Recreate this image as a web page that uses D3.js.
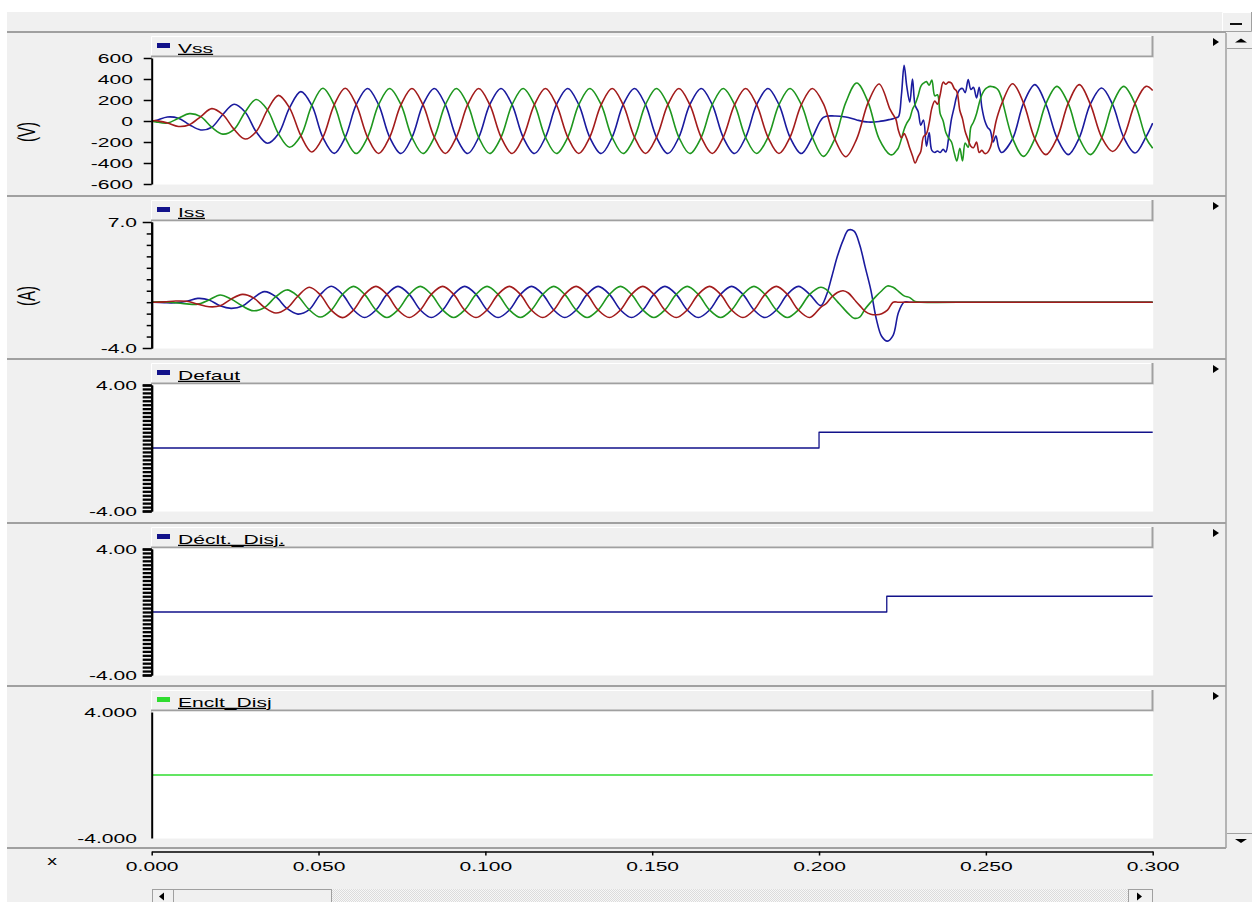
<!DOCTYPE html>
<html>
<head>
<meta charset="utf-8">
<script src="https://cdn.jsdelivr.net/npm/d3@7"></script>
<style>
  body { margin: 0; background: #fff; }
  svg text { font-family: "Liberation Sans", Arial, sans-serif; fill: #000; }
</style>
</head>
<body>
<div id="chart"></div>
<script>
// ---- data (time in s) ----
const xTicks = [0, 0.05, 0.1, 0.15, 0.2, 0.25, 0.3];
const vssTicks = [-600, -400, -200, 0, 200, 400, 600];
const issLabelTicks = [-4, 7];
const issMinorTicks = [-3, -2, -1, 0, 1, 2, 3, 4, 5, 6];
const logicLabelTicks = [-4, 4];

const vssTime = [0,
  0.0013, 0.0047, 0.0080, 0.0113, 0.0147, 0.0180,
  0.0213, 0.0247, 0.0280, 0.0313, 0.0347, 0.0380,
  0.0413, 0.0447, 0.0480, 0.0513, 0.0547, 0.0580,
  0.0613, 0.0647, 0.0680, 0.0713, 0.0747, 0.0780,
  0.0813, 0.0847, 0.0880, 0.0913, 0.0947, 0.0980,
  0.1013, 0.1047, 0.1080, 0.1113, 0.1147, 0.1180,
  0.1213, 0.1247, 0.1280, 0.1313, 0.1347, 0.1380,
  0.1413, 0.1447, 0.1480, 0.1513, 0.1547, 0.1580,
  0.1613, 0.1647, 0.1680, 0.1713, 0.1747, 0.1780,
  0.1813, 0.1847, 0.1880, 0.1913, 0.1947, 0.1980,
  0.2013, 0.2047, 0.2080, 0.2113, 0.2147, 0.2180,
  0.2213, 0.2222, 0.2230, 0.2238, 0.2247, 0.2255, 0.2263, 0.2272,
  0.2280, 0.2288, 0.2297, 0.2305, 0.2313, 0.2322, 0.2330, 0.2338,
  0.2347, 0.2355, 0.2363, 0.2372, 0.2380, 0.2388, 0.2397, 0.2405,
  0.2413, 0.2422, 0.2430, 0.2438, 0.2447, 0.2455, 0.2463, 0.2472,
  0.2480, 0.2488, 0.2497, 0.2505, 0.2513, 0.2522, 0.2530, 0.2538,
  0.2547, 0.2580, 0.2613, 0.2647, 0.2680, 0.2713, 0.2747, 0.2780,
  0.2813, 0.2847, 0.2880, 0.2913, 0.2947, 0.2980, 0.3000];

const vssBlue = [0,
  4, 38, 26, -35, -85, -59,
  62, 160, 86, -102, -212, -122,
  125, 280, 148, -156, -308, -156,
  155, 310, 155, -155, -310, -155,
  155, 310, 155, -155, -310, -155,
  155, 310, 155, -155, -310, -155,
  155, 310, 155, -155, -310, -155,
  155, 310, 155, -155, -310, -155,
  155, 310, 155, -155, -310, -155,
  155, 310, 155, -155, -310, -155,
  35, 48, 38, 10, -10, -5,
  15, 22, 30, 40, 250, 530, 330, 180,
  400, 150, 90, -40, 10, -240, -110, -280,
  -300, -285, -300, -270, -295, -170, 20, 130,
  240, 300, 310, 270, 395, 300, 320, 220,
  320, 130, 0, -60, -90, -200, -140, -250,
  -300, -170, 170, 346, 160, -160, -320, -160,
  160, 314, 155, -155, -305, -150, -20];

const vssGreen = [0,
  -8, -19, 26, 70, 42, -59,
  -125, -80, 86, 205, 106, -122,
  -250, -140, 148, 312, 154, -156,
  -310, -155, 155, 310, 155, -155,
  -310, -155, 155, 310, 155, -155,
  -310, -155, 155, 310, 155, -155,
  -310, -155, 155, 310, 155, -155,
  -310, -155, 155, 310, 155, -155,
  -310, -155, 155, 310, 155, -155,
  -310, -155, 155, 310, 155, -155,
  -337, -172, 175, 362, 180, -170,
  -320, -318, -290, -255, -170, -80, -20, 25,
  110, 160, 240, 330, 360, 375, 340, 390,
  240, 250, 70, 0, -110, -160, -200, -300,
  -380, -260, -380, -210, -250, -60, -10, 70,
  170, 250, 300, 320, 330, 325, 315, 290,
  220, -165, -337, -165, 165, 330, 165, -165,
  -320, -160, 165, 330, 165, -160, -260];

const vssRed = [0,
  4, -19, -52, -35, 42, 118,
  62, -80, -172, -102, 106, 244,
  125, -140, -295, -156, 154, 312,
  155, -155, -310, -155, 155, 310,
  155, -155, -310, -155, 155, 310,
  155, -155, -310, -155, 155, 310,
  155, -155, -310, -155, 155, 310,
  155, -155, -310, -155, 155, 310,
  155, -155, -310, -155, 155, 310,
  155, -155, -310, -155, 155, 310,
  165, -170, -340, -170, 175, 352,
  110, 60, 20, -90, -160, -120, -170, -260,
  -330, -400, -340, -290, -150, -120, -20, 120,
  190, 160, 250, 370, 350, 370, 360, 310,
  280, 100, 20, -100, -180, -240, -255, -200,
  -300, -280, -310, -300, -255, -140, -10, 80,
  160, 355, 170, -170, -320, -165, 170, 346,
  160, -155, -290, -150, 165, 330, 290];

const issTime = [0,
  0.0005, 0.0038, 0.0072, 0.0105, 0.0138, 0.0172,
  0.0205, 0.0238, 0.0272, 0.0305, 0.0338, 0.0372,
  0.0405, 0.0438, 0.0472, 0.0505, 0.0538, 0.0572,
  0.0605, 0.0638, 0.0672, 0.0705, 0.0738, 0.0772,
  0.0805, 0.0838, 0.0872, 0.0905, 0.0938, 0.0972,
  0.1005, 0.1038, 0.1072, 0.1105, 0.1138, 0.1172,
  0.1205, 0.1238, 0.1272, 0.1305, 0.1338, 0.1372,
  0.1405, 0.1438, 0.1472, 0.1505, 0.1538, 0.1572,
  0.1605, 0.1638, 0.1672, 0.1705, 0.1738, 0.1772,
  0.1805, 0.1838, 0.1872, 0.1905, 0.1938, 0.1972,
  0.2005, 0.2022, 0.2038, 0.2055, 0.2072, 0.2088, 0.2105, 0.2122, 0.2138, 0.2155,
  0.2172, 0.2188, 0.2205, 0.2222, 0.2238, 0.2255, 0.2272, 0.2288, 0.2305,
  0.2500, 0.3000];

const issBlue = [0,
  -0.01, -0.05, -0.05, 0.08, 0.33, 0.2,
  -0.32, -0.54, -0.34, 0.38, 0.92, 0.48,
  -0.54, -1.04, -0.65, 0.65, 1.39, 0.68,
  -0.68, -1.34, -0.68, 0.68, 1.38, 0.68,
  -0.68, -1.34, -0.68, 0.68, 1.38, 0.68,
  -0.68, -1.34, -0.68, 0.68, 1.38, 0.68,
  -0.68, -1.34, -0.68, 0.68, 1.38, 0.68,
  -0.68, -1.34, -0.68, 0.68, 1.38, 0.68,
  -0.68, -1.34, -0.68, 0.68, 1.38, 0.68,
  -0.68, -1.34, -0.68, 0.68, 1.38, 0.68,
  -0.3, 0.6, 2.2, 4.0, 5.4, 6.3, 6.2, 5.0, 3.1, 1.1,
  -1.5, -3.0, -3.4, -2.9, -0.9, 0, 0, 0, 0,
  0, 0];

const issGreen = [0,
  0.02, 0.03, -0.05, -0.15, -0.17, 0.2,
  0.63, 0.27, -0.34, -0.75, -0.46, 0.48,
  1.07, 0.52, -0.65, -1.3, -0.7, 0.68,
  1.38, 0.68, -0.68, -1.34, -0.68, 0.68,
  1.38, 0.68, -0.68, -1.34, -0.68, 0.68,
  1.38, 0.68, -0.68, -1.34, -0.68, 0.68,
  1.38, 0.68, -0.68, -1.34, -0.68, 0.68,
  1.38, 0.68, -0.68, -1.34, -0.68, 0.68,
  1.38, 0.68, -0.68, -1.34, -0.68, 0.68,
  1.38, 0.68, -0.68, -1.34, -0.68, 0.68,
  1.3, 1.1, 0.6, 0.05, -0.5, -1.0, -1.4, -1.3, -0.6, 0.0,
  0.55, 1.0, 1.42, 1.3, 0.95, 0.55, 0.4, 0.05, 0,
  0, 0];

const issRed = [0,
  -0.01, 0.03, 0.1, 0.08, -0.17, -0.4,
  -0.32, 0.27, 0.68, 0.38, -0.46, -0.95,
  -0.54, 0.52, 1.3, 0.65, -0.7, -1.35,
  -0.68, 0.68, 1.38, 0.68, -0.68, -1.34,
  -0.68, 0.68, 1.38, 0.68, -0.68, -1.34,
  -0.68, 0.68, 1.38, 0.68, -0.68, -1.34,
  -0.68, 0.68, 1.38, 0.68, -0.68, -1.34,
  -0.68, 0.68, 1.38, 0.68, -0.68, -1.34,
  -0.68, 0.68, 1.38, 0.68, -0.68, -1.34,
  -0.68, 0.68, 1.38, 0.68, -0.68, -1.34,
  -0.45, -0.1, 0.45, 0.85, 1.0, 0.8, 0.25, -0.3, -0.8, -1.05,
  -1.1, -1.0, -0.7, 0, 0, 0, 0, 0, 0,
  0, 0];

const defautTime = [0, 0.2, 0.3];
const defautValues = [0, 1, 1];
const decltTime = [0, 0.2203, 0.3];
const decltValues = [0, 1, 1];
const encltTime = [0, 0.3];
const encltValues = [0, 0];

// ---- layout ----
const W = 1255, H = 902;
const plotLeft = 151.7, plotRight = 1152.7;
const panelTops = [32, 196, 359, 523, 686];
const SX = 1.62;   // the screenshot is stretched horizontally
const BG = '#f0f0f0', EDGE = '#a0a0a0';
const BLUE = '#1b1b9e', GREEN = '#1f971f', RED = '#a31c1c', NAVY = '#12128a', LIME = '#2fdc2f';

const fmtLocale = d3.formatLocale({ decimal: '.', thousands: ',', grouping: [3], currency: ['', ''], minus: '-' });

const svg = d3.select('#chart').append('svg')
    .attr('width', W)
    .attr('height', H);

const defs = svg.append('defs');
const hatch = defs.append('pattern')
    .attr('id', 'hatch')
    .attr('width', 2).attr('height', 2)
    .attr('patternUnits', 'userSpaceOnUse');
hatch.append('rect').attr('width', 2).attr('height', 2).attr('fill', '#f7f7f7');
hatch.append('rect').attr('width', 1).attr('height', 1).attr('fill', '#dcdcdc');
hatch.append('rect').attr('x', 1).attr('y', 1).attr('width', 1).attr('height', 1).attr('fill', '#dcdcdc');

svg.append('rect').attr('width', W).attr('height', H).attr('fill', '#fff');
svg.append('rect').attr('x', 7).attr('y', 12).attr('width', W - 10).attr('height', H - 12).attr('fill', BG);

// toolbar button
svg.append('path').attr('d', 'M1222.5,31 V12.5 H1251').attr('stroke', '#fff').attr('fill', 'none');
svg.append('path').attr('d', 'M1222,31.5 H1251.5 V12').attr('stroke', EDGE).attr('fill', 'none');
svg.append('rect').attr('x', 1230).attr('y', 23).attr('width', 12).attr('height', 2).attr('fill', '#111');

const xScale = d3.scaleLinear()
    .domain([0, 0.3])
    .range([plotLeft, plotRight]);

function stretched(sel, tx, ty, extra) {
    return sel.attr('transform', `translate(${tx},${ty}) scale(${SX},1)` + (extra || ''));
}

const panels = [
    { label: 'Vss', swatch: NAVY, unit: '(V)', domain: [-600, 600], labelTicks: vssTicks,
      minorTicks: [], fmt: 'd', labelRight: 133, majorLen: 8, curve: d3.curveCatmullRom.alpha(0.5),
      series: [[vssTime, vssBlue, BLUE], [vssTime, vssGreen, GREEN], [vssTime, vssRed, RED]] },
    { label: 'Iss', swatch: NAVY, unit: '(A)', domain: [-4, 7], labelTicks: issLabelTicks,
      minorTicks: issMinorTicks, minorLen: 5, fmt: '.1f', labelRight: 137, majorLen: 9, curve: d3.curveCatmullRom.alpha(0.5),
      series: [[issTime, issBlue, BLUE], [issTime, issGreen, GREEN], [issTime, issRed, RED]] },
    { label: 'Defaut', swatch: NAVY, domain: [-4, 4], labelTicks: logicLabelTicks,
      minorTicks: d3.range(-4, 4.001, 0.25), minorLen: 9, comb: true, fmt: '.2f', labelRight: 137, majorLen: 9,
      curve: d3.curveStepAfter, series: [[defautTime, defautValues, NAVY]] },
    { label: 'Déclt._Disj.', swatch: NAVY, domain: [-4, 4], labelTicks: logicLabelTicks,
      minorTicks: d3.range(-4, 4.001, 0.25), minorLen: 9, comb: true, fmt: '.2f', labelRight: 137, majorLen: 9,
      curve: d3.curveStepAfter, series: [[decltTime, decltValues, NAVY]] },
    { label: 'Enclt_Disj', swatch: LIME, domain: [-4, 4], labelTicks: logicLabelTicks,
      minorTicks: [], fmt: '.3f', labelRight: 137, majorLen: 0,
      curve: d3.curveLinear, series: [[encltTime, encltValues, LIME]] }
];

panels.forEach((p, i) => {
    const top = panelTops[i];
    const g = svg.append('g');

    g.append('line')
        .attr('x1', 7).attr('x2', 1226).attr('y1', top).attr('y2', top)
        .attr('stroke', EDGE).attr('stroke-width', 2);

    // header bar with legend
    g.append('path').attr('d', `M151.5,${top + 24} V${top + 4.5} H1152`).attr('stroke', '#fff').attr('fill', 'none');
    g.append('path').attr('d', `M151,${top + 24.5} H1152.5 V${top + 4}`)
        .attr('stroke', EDGE).attr('stroke-width', 2).attr('fill', 'none');
    g.append('rect')
        .attr('x', 157).attr('y', top + 11).attr('width', 13).attr('height', 5)
        .attr('fill', p.swatch);
    stretched(g.append('text'), 178, top + 21)
        .attr('font-size', 13)
        .style('text-decoration', 'underline')
        .text(p.label);

    // little arrow on the right
    g.append('path')
        .attr('d', `M1213,${top + 6} L1219,${top + 10} L1213,${top + 14} Z`)
        .attr('fill', '#000');

    // plot area
    const yScale = d3.scaleLinear()
        .domain(p.domain)
        .range([top + 152, top + 26]);

    g.append('rect')
        .attr('x', 152).attr('y', top + 25.5)
        .attr('width', plotRight - 152 + 0.5).attr('height', 127)
        .attr('fill', '#fff');

    const clipId = 'clip' + i;
    defs.append('clipPath').attr('id', clipId)
        .append('rect')
        .attr('x', 152).attr('y', top + 25.5)
        .attr('width', plotRight - 152 + 0.5).attr('height', 127);

    const linesG = g.append('g').attr('clip-path', `url(#${clipId})`);
    p.series.forEach(([t, v, color]) => {
        const line = d3.line()
            .x(j => xScale(t[j]))
            .y(j => yScale(v[j]))
            .curve(p.curve);
        linesG.append('path')
            .attr('d', line(d3.range(t.length)))
            .attr('fill', 'none')
            .attr('stroke', color)
            .attr('stroke-width', p.comb || i === 4 ? 1.3 : 1.6)
            .attr('stroke-linejoin', 'round');
    });

    // y axis
    if (p.minorTicks.length) {
        const minorAxis = d3.axisLeft(yScale)
            .tickValues(p.minorTicks)
            .tickSize(p.minorLen)
            .tickSizeOuter(0)
            .tickFormat('');
        const mg = g.append('g').attr('transform', `translate(${plotLeft},0)`).call(minorAxis);
        mg.selectAll('.tick line').attr('stroke', '#000').attr('stroke-width', p.comb ? 2.3 : 1.5);
        mg.select('.domain').attr('stroke', '#000').attr('stroke-width', 2);
    }
    const yAxis = d3.axisLeft(yScale)
        .tickValues(p.labelTicks)
        .tickSize(p.majorLen)
        .tickSizeOuter(0)
        .tickFormat(fmtLocale.format(p.fmt));
    const yAxisG = g.append('g')
        .attr('transform', `translate(${plotLeft},0)`)
        .call(yAxis);
    yAxisG.attr('font-size', 13).attr('font-family', null);
    yAxisG.select('.domain').attr('stroke', '#000').attr('stroke-width', 2);
    yAxisG.selectAll('.tick line').attr('stroke', '#000').attr('stroke-width', p.comb ? 2.3 : 1.5);
    yAxisG.selectAll('.tick text')
        .attr('x', 0)
        .attr('fill', '#000')
        .attr('transform', `translate(${p.labelRight - plotLeft},0) scale(${SX},1)`);

    if (p.unit) {
        stretched(g.append('text'), 26, top + 100, ' rotate(-90)')
            .attr('font-size', 15)
            .attr('text-anchor', 'middle')
            .attr('dy', '0.35em')
            .text(p.unit);
    }
});

// bottom separator
svg.append('line')
    .attr('x1', 7).attr('x2', 1226).attr('y1', 848).attr('y2', 848)
    .attr('stroke', EDGE).attr('stroke-width', 2);

// x axis
const xAxis = d3.axisBottom(xScale)
    .tickValues(xTicks)
    .tickSize(4)
    .tickSizeOuter(0)
    .tickFormat(fmtLocale.format('.3f'));
const xAxisG = svg.append('g')
    .attr('transform', 'translate(0,851.5)')
    .call(xAxis);
xAxisG.attr('font-size', 13).attr('font-family', null);
xAxisG.select('.domain').attr('stroke', '#000').attr('stroke-width', 1.5);
xAxisG.selectAll('.tick line').attr('stroke', '#000').attr('stroke-width', 1.5);
xAxisG.selectAll('.tick text')
    .attr('y', 0).attr('dy', null)
    .attr('fill', '#000')
    .attr('transform', `translate(0,19.5) scale(${SX},1)`);

stretched(svg.append('text'), 52, 865)
    .attr('font-size', 12)
    .attr('text-anchor', 'middle')
    .text('x');

// vertical scrollbar
svg.append('line').attr('x1', 1226).attr('x2', 1226).attr('y1', 33).attr('y2', 848)
    .attr('stroke', EDGE).attr('stroke-width', 1.5);
svg.append('line').attr('x1', 1252.5).attr('x2', 1252.5).attr('y1', 33).attr('y2', 848)
    .attr('stroke', '#fff');
svg.append('line').attr('x1', 1227).attr('x2', 1252).attr('y1', 48.5).attr('y2', 48.5).attr('stroke', EDGE);
svg.append('line').attr('x1', 1227).attr('x2', 1252).attr('y1', 833.5).attr('y2', 833.5).attr('stroke', EDGE);
svg.append('path').attr('d', 'M1235,42.5 L1241,38.5 L1247,42.5 Z').attr('fill', '#000');
svg.append('path').attr('d', 'M1235,839 L1241,843 L1247,839 Z').attr('fill', '#000');

// horizontal scrollbar
svg.append('rect').attr('x', 332).attr('y', 889).attr('width', 796).attr('height', 13).attr('fill', 'url(#hatch)');
svg.append('rect').attr('x', 173.5).attr('y', 889.5).attr('width', 158).attr('height', 13)
    .attr('fill', BG).attr('stroke', EDGE);
svg.append('rect').attr('x', 152.5).attr('y', 889.5).attr('width', 21).attr('height', 13)
    .attr('fill', BG).attr('stroke', EDGE);
svg.append('rect').attr('x', 1128.5).attr('y', 889.5).attr('width', 24).attr('height', 13)
    .attr('fill', BG).attr('stroke', EDGE);
svg.append('path').attr('d', 'M164,892.5 L159,896.5 L164,900.5 Z').attr('fill', '#000');
svg.append('path').attr('d', 'M1137,892.5 L1142,896.5 L1137,900.5 Z').attr('fill', '#000');
</script>
</body>
</html>
